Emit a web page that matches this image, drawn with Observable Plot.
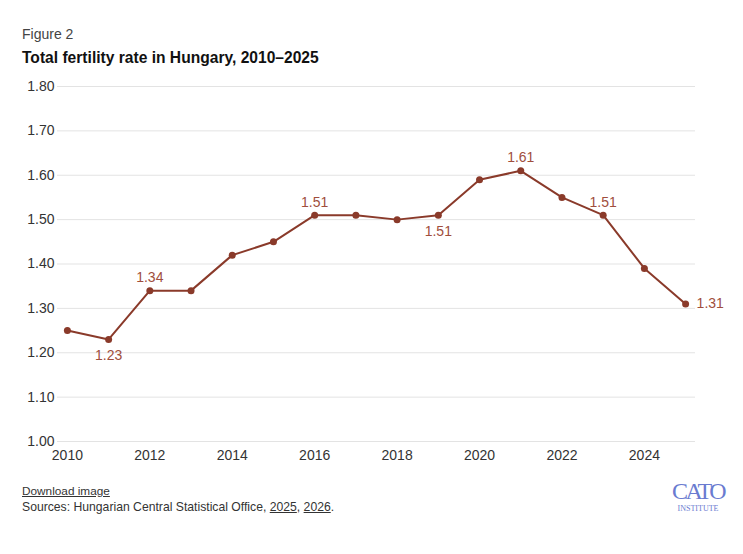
<!DOCTYPE html>
<html>
<head>
<meta charset="utf-8">
<script src="https://cdn.jsdelivr.net/npm/d3@7"></script>
<script src="https://cdn.jsdelivr.net/npm/@observablehq/plot@0.6"></script>
<style>
  html, body { margin: 0; padding: 0; background: #fff; }
  body { width: 743px; height: 554px; position: relative; font-family: "Liberation Sans", Arial, sans-serif; color: #222; }
  #fig { position: absolute; left: 22px; top: 26px; font-size: 14px; color: #444; }
  #title { position: absolute; left: 22px; top: 49px; font-size: 15.6px; font-weight: bold; color: #111; }
  #chart { position: absolute; left: 0; top: 70px; }
  #dl { position: absolute; left: 22px; top: 484px; font-size: 11.8px; color: #333; text-decoration: underline; }
  #src { position: absolute; left: 22px; top: 500px; font-size: 12.2px; color: #333; }
  #src u { text-decoration: underline; }
  #logo { position: absolute; left: 669px; top: 478px; width: 58px; text-align: center; color: #6a7bd0; font-family: "Liberation Serif", serif; }
  #logo .c { font-size: 24px; line-height: 26px; letter-spacing: -2.5px; }
  #logo .i { font-size: 8px; line-height: 9px; letter-spacing: 0px; }
</style>
</head>
<body>
<div id="fig">Figure 2</div>
<div id="title">Total fertility rate in Hungary, 2010–2025</div>
<div id="chart"></div>
<div id="dl">Download image</div>
<div id="src">Sources: Hungarian Central Statistical Office, <u>2025</u>, <u>2026</u>.</div>
<div id="logo"><div class="c">CATO</div><div class="i">INSTITUTE</div></div>
<script>
const years = [2010, 2011, 2012, 2013, 2014, 2015, 2016, 2017, 2018, 2019, 2020, 2021, 2022, 2023, 2024, 2025];
const tfr = [1.25, 1.23, 1.34, 1.34, 1.42, 1.45, 1.51, 1.51, 1.50, 1.51, 1.59, 1.61, 1.55, 1.51, 1.39, 1.31];
const yTicks = [1.0, 1.1, 1.2, 1.3, 1.4, 1.5, 1.6, 1.7, 1.8];
const xTicks = [2010, 2012, 2014, 2016, 2018, 2020, 2022, 2024];
const labelYears = [2011, 2012, 2016, 2019, 2021, 2023, 2025];
const labelPos = ["below", "above", "above", "below", "above", "above", "right"];

const data = years.map((y, i) => ({year: y, v: tfr[i]}));
const labels = labelYears.map((y, i) => ({year: y, v: tfr[years.indexOf(y)], pos: labelPos[i]}));

const lineColor = "#8a3a2a";
const textColor = "#a04e3c";

const chart = Plot.plot({
  width: 743,
  height: 400,
  marginLeft: 57,
  marginRight: 48,
  marginTop: 16,
  marginBottom: 29,
  style: {fontFamily: "Liberation Sans, Arial, sans-serif", fontSize: "14px", color: "#333", background: "transparent"},
  x: {domain: [2009.76, 2025.24], label: null},
  y: {domain: [1.0, 1.8], label: null},
  marks: [
    Plot.gridY(yTicks, {stroke: "#e3e3e3", strokeOpacity: 1}),
    Plot.axisY(yTicks, {tickFormat: d => d.toFixed(2), tickSize: 0, tickPadding: 3, fontSize: 14, fill: "#333", label: null}),
    Plot.axisX(xTicks, {tickFormat: d => String(d), tickSize: 0, tickPadding: 9, fontSize: 14, fill: "#333", label: null}),
    Plot.line(data, {x: "year", y: "v", stroke: lineColor, strokeWidth: 2}),
    Plot.dot(data, {x: "year", y: "v", r: 3.5, fill: lineColor, stroke: "none"}),
    Plot.text(labels.filter(d => d.pos === "above"), {x: "year", y: "v", text: d => d.v.toFixed(2), dy: -13, fill: textColor, fontSize: 14}),
    Plot.text(labels.filter(d => d.pos === "below"), {x: "year", y: "v", text: d => d.v.toFixed(2), dy: 16, fill: textColor, fontSize: 14}),
    Plot.text(labels.filter(d => d.pos === "right"), {x: "year", y: "v", text: d => d.v.toFixed(2), dx: 11, textAnchor: "start", fill: textColor, fontSize: 14})
  ]
});
document.getElementById("chart").appendChild(chart);
</script>
</body>
</html>
